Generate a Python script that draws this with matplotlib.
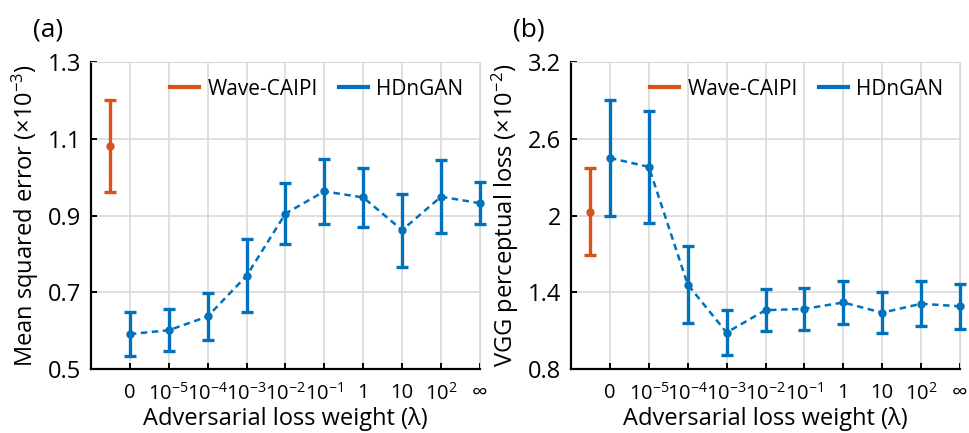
import matplotlib.pyplot as plt
from matplotlib.lines import Line2D

plt.rcParams['font.family'] = ['Open Sans', 'DejaVu Sans']
plt.rcParams['mathtext.fontset'] = 'custom'
plt.rcParams['mathtext.rm'] = 'Open Sans'
plt.rcParams['mathtext.it'] = 'Open Sans'

# x categories (adversarial loss weight)
lam_labels = ['0', '$10^{-5}$', '$10^{-4}$', '$10^{-3}$', '$10^{-2}$',
              '$10^{-1}$', '1', '10', '$10^{2}$', '∞']
lam_pos = list(range(len(lam_labels)))
wave_pos = -0.5

# (a) mean squared error, x1e-3
mse_wave = 1.08
mse_wave_sd = 0.12
mse_mean = [0.591, 0.601, 0.637, 0.743, 0.905, 0.963, 0.947, 0.862, 0.949, 0.932]
mse_sd = [0.057, 0.055, 0.061, 0.095, 0.080, 0.085, 0.078, 0.095, 0.095, 0.055]

# (b) VGG perceptual loss, x1e-2
vgg_wave = 2.03
vgg_wave_sd = 0.34
vgg_mean = [2.45, 2.38, 1.46, 1.085, 1.26, 1.27, 1.32, 1.24, 1.31, 1.29]
vgg_sd = [0.45, 0.44, 0.30, 0.177, 0.163, 0.167, 0.165, 0.161, 0.175, 0.175]

orange = '#D95319'
blue = '#0072BD'

fig = plt.figure(figsize=(9.69, 4.33), dpi=100)
ax1 = fig.add_axes([0.0939, 0.1478, 0.4014, 0.709])
ax2 = fig.add_axes([0.5893, 0.1478, 0.4014, 0.709])


def panel(ax, wave, wave_sd, mean, sd, ylim, yticks, ytlabels, ylabel, tag):
    ax.errorbar([wave_pos], [wave], yerr=[wave_sd], color=orange, fmt='o',
                ms=5, elinewidth=2.4, capsize=4, capthick=2.4, zorder=3)
    ax.plot(lam_pos, mean, color=blue, lw=1.8, ls=(0, (2.6, 1.8)), zorder=3,
            clip_on=False)
    eb2 = ax.errorbar(lam_pos, mean, yerr=sd, color=blue, fmt='o', ms=5,
                      elinewidth=2.4, capsize=4, capthick=2.4, zorder=4)
    for art in eb2.lines[0:1] + tuple(eb2.lines[1]) + tuple(eb2.lines[2]):
        art.set_clip_on(False)
    ax.set_xlim(-1, 9)
    ax.set_ylim(*ylim)
    ax.set_xticks(lam_pos)
    ax.set_xticklabels(lam_labels)
    ax.set_yticks(yticks)
    ax.set_yticklabels(ytlabels)
    ax.grid(True, color='#d9d9d9', lw=1.2)
    ax.set_axisbelow(True)
    for s in ['top', 'right']:
        ax.spines[s].set_color('#d9d9d9')
    for s in ['left', 'bottom']:
        ax.spines[s].set_linewidth(1.6)
    ax.tick_params(direction='in', length=4, width=1.4, top=False, right=False)
    ax.tick_params(axis='y', labelsize=17, pad=7)
    ax.tick_params(axis='x', labelsize=14.5, pad=10)
    ax.get_xticklabels()[-1].set_fontsize(16)
    ax.set_ylabel(ylabel, fontsize=17, labelpad=5)
    ax.set_xlabel('Adversarial loss weight (λ)', fontsize=17)
    ax.xaxis.set_label_coords(0.5, -0.125)
    handles = [Line2D([], [], color=orange, lw=3), Line2D([], [], color=blue, lw=3)]
    ax.legend(handles, ['Wave-CAIPI', 'HDnGAN'], loc='upper right', ncol=2,
              frameon=False, fontsize=15, handlelength=1.4, columnspacing=1.0,
              handletextpad=0.4, borderaxespad=0.4)
    ax.text(-0.15, 1.065, tag, transform=ax.transAxes, fontsize=19,
            ha='left', va='bottom')


panel(ax1, mse_wave, mse_wave_sd, mse_mean, mse_sd, (0.5, 1.3),
      [0.5, 0.7, 0.9, 1.1, 1.3], ['0.5', '0.7', '0.9', '1.1', '1.3'],
      'Mean squared error (×10$^{-3}$)', '(a)')
panel(ax2, vgg_wave, vgg_wave_sd, vgg_mean, vgg_sd, (0.8, 3.2),
      [0.8, 1.4, 2.0, 2.6, 3.2], ['0.8', '1.4', '2', '2.6', '3.2'],
      'VGG perceptual loss (×10$^{-2}$)', '(b)')

fig.savefig('out.png', dpi=100)
